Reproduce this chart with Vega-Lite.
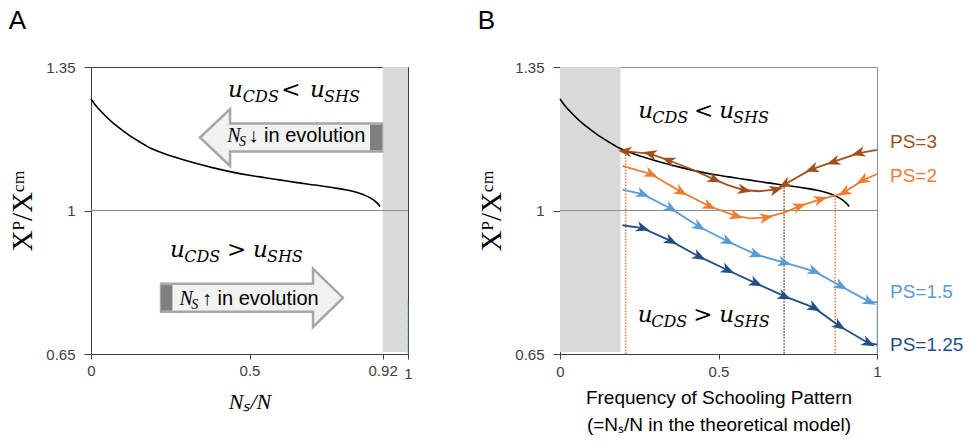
{
  "$schema": "https://vega.github.io/schema/vega-lite/v6.json",
  "padding": {"left": 8, "top": 7, "right": 0, "bottom": 0},
  "background": "white",
  "spacing": 64,
  "config": {
    "axis": {"grid": false, "labelFont": "Liberation Sans", "labelFontSize": 15, "labelColor": "#404040", "domainColor": "#404040", "tickColor": "#404040", "titleColor": "#000000", "titleFontWeight": "normal", "labelOverlap": false, "labelFlush": false, "labelExpr": "'' + datum.value"},
    "title": {"font": "Liberation Sans", "fontSize": 26, "fontWeight": "normal", "anchor": "start", "frame": "bounds", "color": "#000000", "offset": 26}
  },
  "datasets": {
    "shade": [
      {"panel": "A", "x": 0.92, "x2": 1, "y": 0.655, "y2": 1.35},
      {"panel": "B", "x": 0, "x2": 0.191, "y": 0.655, "y2": 1.35}
    ],
    "one": [{"y": 1}],
    "curve": [
      {"x": 0, "y": 1.272}, {"x": 0.015, "y": 1.256}, {"x": 0.035, "y": 1.239}, {"x": 0.07, "y": 1.213},
      {"x": 0.1, "y": 1.195}, {"x": 0.123, "y": 1.182}, {"x": 0.15, "y": 1.169}, {"x": 0.19, "y": 1.151},
      {"x": 0.23, "y": 1.139}, {"x": 0.281, "y": 1.126}, {"x": 0.33, "y": 1.115}, {"x": 0.386, "y": 1.104},
      {"x": 0.45, "y": 1.093}, {"x": 0.5, "y": 1.086}, {"x": 0.55, "y": 1.08}, {"x": 0.6, "y": 1.074},
      {"x": 0.65, "y": 1.068}, {"x": 0.707, "y": 1.062}, {"x": 0.76, "y": 1.056}, {"x": 0.807, "y": 1.05},
      {"x": 0.84, "y": 1.044}, {"x": 0.87, "y": 1.035}, {"x": 0.891, "y": 1.026}, {"x": 0.903, "y": 1.018},
      {"x": 0.912, "y": 1.01}
    ],
    "bigArrow": [
      {"dir": "left", "x": 0.631, "y": 1.178},
      {"dir": "right", "x": 0.508, "y": 0.787}
    ],
    "math": [
      {"panel": "A", "role": "u", "x": 0.432, "y": 1.277, "t": "u"},
      {"panel": "A", "role": "sub", "x": 0.479, "y": 1.277, "t": "CDS"},
      {"panel": "A", "role": "op", "x": 0.6, "y": 1.277, "t": "<"},
      {"panel": "A", "role": "u", "x": 0.691, "y": 1.277, "t": "u"},
      {"panel": "A", "role": "sub", "x": 0.735, "y": 1.277, "t": "SHS"},
      {"panel": "A", "role": "u", "x": 0.249, "y": 0.887, "t": "u"},
      {"panel": "A", "role": "sub", "x": 0.294, "y": 0.887, "t": "CDS"},
      {"panel": "A", "role": "op", "x": 0.429, "y": 0.887, "t": ">"},
      {"panel": "A", "role": "u", "x": 0.511, "y": 0.887, "t": "u"},
      {"panel": "A", "role": "sub", "x": 0.555, "y": 0.887, "t": "SHS"},
      {"panel": "B", "role": "u", "x": 0.247, "y": 1.226, "t": "u"},
      {"panel": "B", "role": "sub", "x": 0.291, "y": 1.226, "t": "CDS"},
      {"panel": "B", "role": "op", "x": 0.423, "y": 1.226, "t": "<"},
      {"panel": "B", "role": "u", "x": 0.502, "y": 1.226, "t": "u"},
      {"panel": "B", "role": "sub", "x": 0.546, "y": 1.226, "t": "SHS"},
      {"panel": "B", "role": "u", "x": 0.245, "y": 0.727, "t": "u"},
      {"panel": "B", "role": "sub", "x": 0.288, "y": 0.727, "t": "CDS"},
      {"panel": "B", "role": "op", "x": 0.42, "y": 0.727, "t": ">"},
      {"panel": "B", "role": "u", "x": 0.502, "y": 0.727, "t": "u"},
      {"panel": "B", "role": "sub", "x": 0.548, "y": 0.727, "t": "SHS"}
    ],
    "evo": [
      {"role": "N", "x": 0.43, "y": 1.167, "t": "N"},
      {"role": "sub", "x": 0.467, "y": 1.167, "t": "S"},
      {"role": "txt", "x": 0.497, "y": 1.167, "t": "↓ in evolution"},
      {"role": "N", "x": 0.279, "y": 0.77, "t": "N"},
      {"role": "sub", "x": 0.316, "y": 0.77, "t": "S"},
      {"role": "txt", "x": 0.35, "y": 0.77, "t": "↑ in evolution"}
    ],
    "edge": [
      {"panel": "A", "x": 1, "y": 0.777},
      {"panel": "B", "x": 1, "y": 0.777}
    ],
    "ps": [
      {"ps": "PS=3", "x": 0.207, "y": 1.144, "arrow": "L"},
      {"ps": "PS=3", "x": 0.25, "y": 1.141, "arrow": ""},
      {"ps": "PS=3", "x": 0.286, "y": 1.138, "arrow": "L"},
      {"ps": "PS=3", "x": 0.344, "y": 1.122, "arrow": "L"},
      {"ps": "PS=3", "x": 0.417, "y": 1.1, "arrow": ""},
      {"ps": "PS=3", "x": 0.486, "y": 1.076, "arrow": "R"},
      {"ps": "PS=3", "x": 0.53, "y": 1.062, "arrow": ""},
      {"ps": "PS=3", "x": 0.58, "y": 1.05, "arrow": "R"},
      {"ps": "PS=3", "x": 0.628, "y": 1.047, "arrow": ""},
      {"ps": "PS=3", "x": 0.68, "y": 1.051, "arrow": "R"},
      {"ps": "PS=3", "x": 0.71, "y": 1.064, "arrow": "L"},
      {"ps": "PS=3", "x": 0.775, "y": 1.093, "arrow": ""},
      {"ps": "PS=3", "x": 0.796, "y": 1.101, "arrow": "L"},
      {"ps": "PS=3", "x": 0.864, "y": 1.119, "arrow": "L"},
      {"ps": "PS=3", "x": 0.943, "y": 1.14, "arrow": "L"},
      {"ps": "PS=3", "x": 1.0, "y": 1.148, "arrow": ""},
      {"ps": "PS=2", "x": 0.197, "y": 1.109, "arrow": ""},
      {"ps": "PS=2", "x": 0.286, "y": 1.089, "arrow": "R"},
      {"ps": "PS=2", "x": 0.381, "y": 1.046, "arrow": "R"},
      {"ps": "PS=2", "x": 0.47, "y": 1.011, "arrow": "R"},
      {"ps": "PS=2", "x": 0.554, "y": 0.987, "arrow": "R"},
      {"ps": "PS=2", "x": 0.6, "y": 0.981, "arrow": ""},
      {"ps": "PS=2", "x": 0.649, "y": 0.983, "arrow": "R"},
      {"ps": "PS=2", "x": 0.707, "y": 0.995, "arrow": ""},
      {"ps": "PS=2", "x": 0.754, "y": 1.01, "arrow": "R"},
      {"ps": "PS=2", "x": 0.82, "y": 1.027, "arrow": "R"},
      {"ps": "PS=2", "x": 0.868, "y": 1.036, "arrow": ""},
      {"ps": "PS=2", "x": 0.898, "y": 1.045, "arrow": "L"},
      {"ps": "PS=2", "x": 0.956, "y": 1.074, "arrow": "L"},
      {"ps": "PS=2", "x": 1.0, "y": 1.089, "arrow": ""},
      {"ps": "PS=1.5", "x": 0.197, "y": 1.051, "arrow": ""},
      {"ps": "PS=1.5", "x": 0.26, "y": 1.04, "arrow": "R"},
      {"ps": "PS=1.5", "x": 0.349, "y": 1.005, "arrow": "R"},
      {"ps": "PS=1.5", "x": 0.438, "y": 0.961, "arrow": "R"},
      {"ps": "PS=1.5", "x": 0.528, "y": 0.925, "arrow": "R"},
      {"ps": "PS=1.5", "x": 0.617, "y": 0.893, "arrow": "R"},
      {"ps": "PS=1.5", "x": 0.707, "y": 0.873, "arrow": "R"},
      {"ps": "PS=1.5", "x": 0.801, "y": 0.852, "arrow": "R"},
      {"ps": "PS=1.5", "x": 0.885, "y": 0.816, "arrow": "R"},
      {"ps": "PS=1.5", "x": 0.975, "y": 0.778, "arrow": "R"},
      {"ps": "PS=1.5", "x": 1.0, "y": 0.776, "arrow": ""},
      {"ps": "PS=1.25", "x": 0.197, "y": 0.964, "arrow": ""},
      {"ps": "PS=1.25", "x": 0.26, "y": 0.957, "arrow": "R"},
      {"ps": "PS=1.25", "x": 0.349, "y": 0.926, "arrow": "R"},
      {"ps": "PS=1.25", "x": 0.438, "y": 0.888, "arrow": "R"},
      {"ps": "PS=1.25", "x": 0.528, "y": 0.855, "arrow": "R"},
      {"ps": "PS=1.25", "x": 0.617, "y": 0.823, "arrow": "R"},
      {"ps": "PS=1.25", "x": 0.707, "y": 0.791, "arrow": "R"},
      {"ps": "PS=1.25", "x": 0.801, "y": 0.763, "arrow": "R"},
      {"ps": "PS=1.25", "x": 0.88, "y": 0.719, "arrow": "R"},
      {"ps": "PS=1.25", "x": 0.972, "y": 0.677, "arrow": "R"},
      {"ps": "PS=1.25", "x": 1.0, "y": 0.673, "arrow": ""}
    ],
    "eq": [
      {"x": 0.207, "y": 1.144},
      {"x": 0.707, "y": 1.064},
      {"x": 0.868, "y": 1.036}
    ],
    "psLabel": [
      {"ps": "PS=3", "x": 1.041, "y": 1.166},
      {"ps": "PS=2", "x": 1.041, "y": 1.083},
      {"ps": "PS=1.5", "x": 1.041, "y": 0.802},
      {"ps": "PS=1.25", "x": 1.041, "y": 0.672}
    ]
  },
  "hconcat": [
    {
      "width": 317,
      "height": 287,
      "title": {"text": "A"},
      "view": {"stroke": "#404040"},
      "layer": [
        {
          "data": {"name": "shade"},
          "transform": [{"filter": "datum.panel == 'A'"}],
          "mark": {"type": "rect", "color": "#d9d9d9"},
          "encoding": {
            "x": {"field": "x", "type": "quantitative", "scale": {"domain": [0, 1], "nice": false, "zero": false},
              "axis": {"values": [0, 0.5, 0.92, 1], "tickSize": 5, "labelPadding": {"condition": {"test": "datum.value == 1", "value": 7}, "value": 4}, "title": "Nₛ/N", "titleFont": "Liberation Serif", "titleFontStyle": "italic", "titleFontSize": 22, "titlePadding": 10}},
            "x2": {"field": "x2"},
            "y": {"field": "y", "type": "quantitative", "scale": {"domain": [0.65, 1.35], "nice": false, "zero": false},
              "axis": {"values": [0.65, 1, 1.35], "tickSize": 7, "labelPadding": 9, "title": "Xᴾ/Xᶜᵐ", "titleFont": "Liberation Serif", "titleFontSize": 29, "titlePadding": 8}},
            "y2": {"field": "y2"}
          }
        },
        {
          "data": {"name": "edge"},
          "transform": [{"filter": "datum.panel == 'A'"}],
          "mark": {"type": "rule", "color": "#5b9bd5", "strokeDash": [1, 1], "strokeWidth": 1},
          "encoding": {"x": {"field": "x", "type": "quantitative"}, "y": {"field": "y", "type": "quantitative"}, "y2": {"datum": 0.65}}
        },
        {
          "data": {"name": "one"},
          "mark": {"type": "rule", "color": "#8c8c8c", "strokeWidth": 1},
          "encoding": {"y": {"field": "y", "type": "quantitative"}}
        },
        {
          "data": {"name": "curve"},
          "mark": {"type": "line", "color": "#000000", "strokeWidth": 1.6, "interpolate": "monotone"},
          "encoding": {"x": {"field": "x", "type": "quantitative"}, "y": {"field": "y", "type": "quantitative"}}
        },
        {
          "data": {"name": "bigArrow"},
          "transform": [{"filter": "datum.dir == 'left'"}],
          "layer": [
            {"mark": {"type": "point", "filled": true, "fill": "#f2f2f2", "stroke": "#a6a6a6", "strokeWidth": 2.5, "opacity": 1, "size": 33124,
              "shape": "M-1,0L-0.67,-0.313L-0.67,-0.154L1,-0.154L1,0.154L-0.67,0.154L-0.67,0.313Z"},
              "encoding": {"x": {"field": "x", "type": "quantitative"}, "y": {"field": "y", "type": "quantitative"}}},
            {"mark": {"type": "point", "filled": true, "fill": "#7f7f7f", "strokeWidth": 0, "opacity": 1, "size": 33124,
              "shape": "M0.868,-0.14L1,-0.14L1,0.14L0.868,0.14Z"},
              "encoding": {"x": {"field": "x", "type": "quantitative"}, "y": {"field": "y", "type": "quantitative"}}}
          ]
        },
        {
          "data": {"name": "bigArrow"},
          "transform": [{"filter": "datum.dir == 'right'"}],
          "layer": [
            {"mark": {"type": "point", "filled": true, "fill": "#f2f2f2", "stroke": "#a6a6a6", "strokeWidth": 2.5, "opacity": 1, "size": 33124,
              "shape": "M1,0L0.67,-0.32L0.67,-0.154L-1,-0.154L-1,0.154L0.67,0.154L0.67,0.32Z"},
              "encoding": {"x": {"field": "x", "type": "quantitative"}, "y": {"field": "y", "type": "quantitative"}}},
            {"mark": {"type": "point", "filled": true, "fill": "#7f7f7f", "strokeWidth": 0, "opacity": 1, "size": 33124,
              "shape": "M-1,-0.14L-0.875,-0.14L-0.875,0.14L-1,0.14Z"},
              "encoding": {"x": {"field": "x", "type": "quantitative"}, "y": {"field": "y", "type": "quantitative"}}}
          ]
        },
        {
          "data": {"name": "math"},
          "transform": [{"filter": "datum.panel == 'A' && datum.role == 'u'"}],
          "mark": {"type": "text", "font": "DejaVu Serif", "fontStyle": "italic", "fontSize": 23, "align": "left", "baseline": "alphabetic", "color": "#000000"},
          "encoding": {"x": {"field": "x", "type": "quantitative"}, "y": {"field": "y", "type": "quantitative"}, "text": {"field": "t"}}
        },
        {
          "data": {"name": "math"},
          "transform": [{"filter": "datum.panel == 'A' && datum.role == 'op'"}],
          "mark": {"type": "text", "font": "DejaVu Serif", "fontSize": 23, "align": "left", "baseline": "alphabetic", "color": "#000000"},
          "encoding": {"x": {"field": "x", "type": "quantitative"}, "y": {"field": "y", "type": "quantitative"}, "text": {"field": "t"}}
        },
        {
          "data": {"name": "math"},
          "transform": [{"filter": "datum.panel == 'A' && datum.role == 'sub'"}],
          "mark": {"type": "text", "font": "DejaVu Serif", "fontStyle": "italic", "fontSize": 16, "align": "left", "baseline": "alphabetic", "dy": 5, "color": "#000000"},
          "encoding": {"x": {"field": "x", "type": "quantitative"}, "y": {"field": "y", "type": "quantitative"}, "text": {"field": "t"}}
        },
        {
          "data": {"name": "evo"},
          "transform": [{"filter": "datum.role == 'N'"}],
          "mark": {"type": "text", "font": "Liberation Serif", "fontStyle": "italic", "fontSize": 20, "align": "left", "baseline": "alphabetic", "color": "#000000"},
          "encoding": {"x": {"field": "x", "type": "quantitative"}, "y": {"field": "y", "type": "quantitative"}, "text": {"field": "t"}}
        },
        {
          "data": {"name": "evo"},
          "transform": [{"filter": "datum.role == 'sub'"}],
          "mark": {"type": "text", "font": "Liberation Serif", "fontStyle": "italic", "fontSize": 14, "align": "left", "baseline": "alphabetic", "dy": 4, "color": "#000000"},
          "encoding": {"x": {"field": "x", "type": "quantitative"}, "y": {"field": "y", "type": "quantitative"}, "text": {"field": "t"}}
        },
        {
          "data": {"name": "evo"},
          "transform": [{"filter": "datum.role == 'txt'"}],
          "mark": {"type": "text", "font": "Liberation Sans", "fontSize": 20, "align": "left", "baseline": "alphabetic", "color": "#000000"},
          "encoding": {"x": {"field": "x", "type": "quantitative"}, "y": {"field": "y", "type": "quantitative"}, "text": {"field": "t"}}
        }
      ]
    },
    {
      "width": 317,
      "height": 287,
      "title": {"text": "B"},
      "view": {"stroke": "#8c8c8c"},
      "layer": [
        {
          "data": {"name": "shade"},
          "transform": [{"filter": "datum.panel == 'B'"}],
          "mark": {"type": "rect", "color": "#d9d9d9"},
          "encoding": {
            "x": {"field": "x", "type": "quantitative", "scale": {"domain": [0, 1], "nice": false, "zero": false},
              "axis": {"values": [0, 0.5, 1], "tickSize": 5, "labelPadding": 5, "title": ["Frequency of Schooling Pattern", "(=Nₛ/N in the theoretical model)"], "titleFont": "Liberation Sans", "titleFontSize": 19, "titleLineHeight": 27, "titlePadding": 9}},
            "x2": {"field": "x2"},
            "y": {"field": "y", "type": "quantitative", "scale": {"domain": [0.65, 1.35], "nice": false, "zero": false},
              "axis": {"values": [0.65, 1, 1.35], "tickSize": 7, "labelPadding": 9, "title": "Xᴾ/Xᶜᵐ", "titleFont": "Liberation Serif", "titleFontSize": 29, "titlePadding": 8}},
            "y2": {"field": "y2"}
          }
        },
        {
          "data": {"name": "edge"},
          "transform": [{"filter": "datum.panel == 'B'"}],
          "mark": {"type": "rule", "color": "#5b9bd5", "strokeDash": [1, 1], "strokeWidth": 1},
          "encoding": {"x": {"field": "x", "type": "quantitative"}, "y": {"field": "y", "type": "quantitative"}, "y2": {"datum": 0.65}}
        },
        {
          "data": {"name": "one"},
          "mark": {"type": "rule", "color": "#8c8c8c", "strokeWidth": 1},
          "encoding": {"y": {"field": "y", "type": "quantitative"}}
        },
        {
          "data": {"name": "eq"},
          "mark": {"type": "rule", "strokeDash": [1.5, 1.5], "strokeWidth": 1.5},
          "encoding": {
            "x": {"field": "x", "type": "quantitative"},
            "y": {"field": "y", "type": "quantitative"},
            "y2": {"datum": 0.65},
            "color": {"condition": {"test": "datum.x > 0.8 || datum.x < 0.3", "value": "#e07b39"}, "value": "#8a4a1c"}
          }
        },
        {
          "data": {"name": "curve"},
          "mark": {"type": "line", "color": "#000000", "strokeWidth": 1.6, "interpolate": "monotone"},
          "encoding": {"x": {"field": "x", "type": "quantitative"}, "y": {"field": "y", "type": "quantitative"}}
        },
        {
          "data": {"name": "ps"},
          "mark": {"type": "line", "strokeWidth": 1.8},
          "encoding": {
            "x": {"field": "x", "type": "quantitative"},
            "y": {"field": "y", "type": "quantitative"},
            "order": {"field": "x", "type": "quantitative"},
            "color": {"field": "ps", "type": "nominal", "scale": {"domain": ["PS=3", "PS=2", "PS=1.5", "PS=1.25"], "range": ["#a0501e", "#ed7d31", "#5b9bd5", "#234f86"]}, "legend": null}
          }
        },
        {
          "data": {"name": "ps"},
          "transform": [
            {"window": [{"op": "lag", "field": "x", "as": "xp"}, {"op": "lag", "field": "y", "as": "yp"}, {"op": "lead", "field": "x", "as": "xn"}, {"op": "lead", "field": "y", "as": "yn"}], "groupby": ["ps"], "sort": [{"field": "x"}]},
            {"filter": "datum.arrow != ''"},
            {"calculate": "atan2(-((isValid(datum.yn) ? datum.yn : datum.y) - (isValid(datum.yp) ? datum.yp : datum.y)) * 410, ((isValid(datum.xn) ? datum.xn : datum.x) - (isValid(datum.xp) ? datum.xp : datum.x)) * 317) * 180 / PI + (datum.arrow == 'L' ? 180 : 0)", "as": "ang"}
          ],
          "mark": {"type": "point", "filled": true, "opacity": 1, "size": 230, "shape": "M1,0L-0.8,-0.7L-0.3,0L-0.8,0.7Z"},
          "encoding": {
            "x": {"field": "x", "type": "quantitative"},
            "y": {"field": "y", "type": "quantitative"},
            "angle": {"field": "ang", "type": "quantitative", "scale": null},
            "color": {"field": "ps", "type": "nominal", "legend": null}
          }
        },
        {
          "data": {"name": "psLabel"},
          "mark": {"type": "text", "font": "Liberation Sans", "fontSize": 19, "align": "left", "baseline": "middle"},
          "encoding": {
            "x": {"field": "x", "type": "quantitative"},
            "y": {"field": "y", "type": "quantitative"},
            "text": {"field": "ps"},
            "color": {"field": "ps", "type": "nominal", "legend": null}
          }
        },
        {
          "data": {"name": "math"},
          "transform": [{"filter": "datum.panel == 'B' && datum.role == 'u'"}],
          "mark": {"type": "text", "font": "DejaVu Serif", "fontStyle": "italic", "fontSize": 23, "align": "left", "baseline": "alphabetic", "color": "#000000"},
          "encoding": {"x": {"field": "x", "type": "quantitative"}, "y": {"field": "y", "type": "quantitative"}, "text": {"field": "t"}}
        },
        {
          "data": {"name": "math"},
          "transform": [{"filter": "datum.panel == 'B' && datum.role == 'op'"}],
          "mark": {"type": "text", "font": "DejaVu Serif", "fontSize": 23, "align": "left", "baseline": "alphabetic", "color": "#000000"},
          "encoding": {"x": {"field": "x", "type": "quantitative"}, "y": {"field": "y", "type": "quantitative"}, "text": {"field": "t"}}
        },
        {
          "data": {"name": "math"},
          "transform": [{"filter": "datum.panel == 'B' && datum.role == 'sub'"}],
          "mark": {"type": "text", "font": "DejaVu Serif", "fontStyle": "italic", "fontSize": 16, "align": "left", "baseline": "alphabetic", "dy": 5, "color": "#000000"},
          "encoding": {"x": {"field": "x", "type": "quantitative"}, "y": {"field": "y", "type": "quantitative"}, "text": {"field": "t"}}
        }
      ]
    }
  ]
}
